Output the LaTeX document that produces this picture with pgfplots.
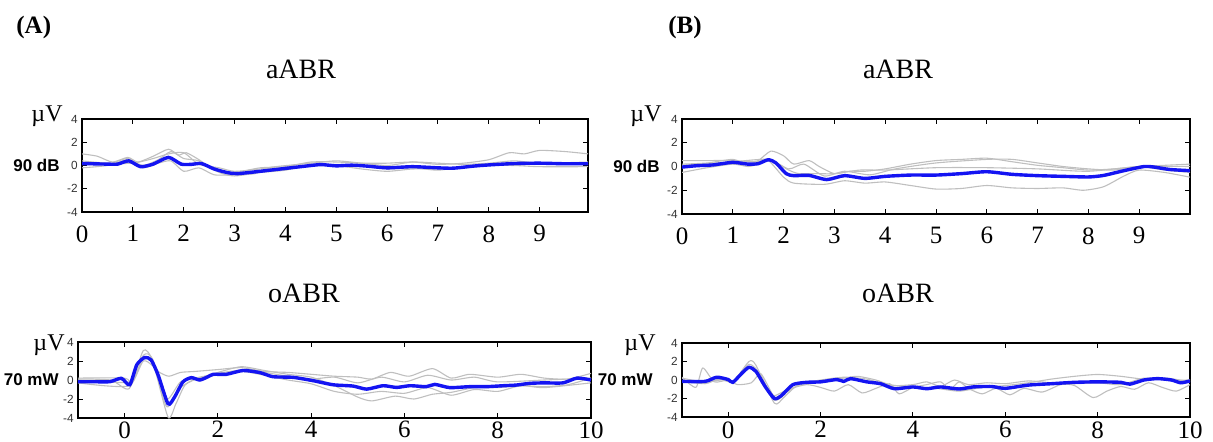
\documentclass[border=0pt]{standalone}
\usepackage{fontspec}
\setmainfont{Liberation Serif}
\setsansfont{Liberation Sans}
\usepackage{pgfplots}
\pgfplotsset{compat=1.18}
\definecolor{meanblue}{rgb}{0.08,0.08,0.95}

\pgfplotsset{
  abr/.style={
    scale only axis, anchor=south west, no markers,
    axis line style={line width=1.2pt},
    ymin=-4, ymax=4, ytick={-4,-2,0,2,4},
    tick align=inside, major tick length=2.5pt,
    every tick/.append style={black, line width=0.5pt},
    /pgf/number format/assume math mode=true,
    xticklabel style={font=\fontsize{12.5}{13}\selectfont, inner sep=0pt},
    yticklabel style={font=\sffamily\fontsize{5.9}{6}\selectfont, text=black!80, inner sep=0pt, xshift=-2pt},
  },
  gr/.style={gray!50, line width=0.55pt, smooth, tension=0.4},
  mn/.style={meanblue, line width=1.7pt, smooth, tension=0.4},
}

\begin{document}
\begin{tikzpicture}
\path[use as bounding box] (0,0) rectangle (606.5pt,220.5pt);

% (A) aABR
\begin{axis}[abr, at={(41pt,114.5pt)}, width=253pt, height=46.5pt,
  xmin=0, xmax=9.95, xtick={0,...,9}, xticklabel style={yshift=-6.5pt}]
\addplot[gr] coordinates {(0,1.0)(0.3,0.8)(0.6,0.3)(0.9,0.7)(1.1,0.3)(1.4,0.8)(1.7,1.4)(1.9,0.9)(2.05,1.1)(2.3,0.5)(2.6,-0.4)(3,-0.6)(3.5,-0.2)(4,-0.1)(4.5,0.3)(5,0.3)(5.5,0.2)(6,0.2)(6.5,0.3)(7,0.1)(7.5,0.2)(8,0.5)(8.4,1.1)(8.7,1.0)(9,1.3)(9.5,1.2)(9.95,1.0)};
\addplot[gr] coordinates {(0,-0.2)(0.5,0)(0.9,0.5)(1.2,0)(1.5,0.5)(1.75,1.2)(2,0.6)(2.3,0.4)(2.7,-0.6)(3,-0.9)(3.5,-0.6)(4,-0.4)(4.5,0.1)(5,0)(5.5,-0.3)(6,-0.5)(6.5,-0.3)(7,-0.3)(7.5,-0.2)(8,0)(8.5,0)(9,-0.1)(9.95,-0.1)};
\addplot[gr] coordinates {(0,0.1)(0.5,0.1)(0.9,0.6)(1.2,-0.2)(1.5,0.2)(1.75,0.4)(2,-0.5)(2.3,-0.2)(2.6,-0.8)(3,-0.8)(3.4,-0.7)(3.6,-0.3)(4,-0.2)(4.5,0)(5,0.1)(5.5,0)(6,-0.3)(6.5,-0.2)(7,-0.4)(7.5,-0.1)(8,0.1)(8.5,0.2)(9,0.1)(9.95,0.1)};
\addplot[gr] coordinates {(0,0.4)(0.5,0.2)(1,0.2)(1.4,0.6)(1.7,1.0)(2,1.1)(2.3,0.1)(2.7,-0.2)(3,-0.5)(3.5,-0.3)(3.8,-0.1)(4.5,0.2)(5,0.4)(5.5,0.2)(6,0)(6.5,0.3)(7,0.2)(7.5,0.1)(8,0.2)(8.5,0.4)(9,0.2)(9.95,0.3)};
\addplot[mn] coordinates {(0,0.17)(0.5,0.12)(0.7,0.12)(0.92,0.4)(1.15,-0.1)(1.4,0.12)(1.7,0.7)(1.95,0.12)(2.15,0.1)(2.35,0.17)(2.6,-0.3)(2.85,-0.6)(3.05,-0.7)(3.5,-0.5)(4,-0.25)(4.4,-0.05)(4.7,0.08)(5,-0.03)(5.3,0.03)(5.6,-0.05)(6,-0.2)(6.5,-0.1)(7,-0.2)(7.3,-0.23)(7.7,-0.05)(8,0.05)(8.5,0.17)(9,0.2)(9.5,0.15)(9.95,0.15)};
\end{axis}

% (B) aABR
\begin{axis}[abr, at={(341pt,113.5pt)}, width=254pt, height=47.5pt,
  xmin=0, xmax=10, xtick={0,...,9}, xticklabel style={yshift=-6.5pt}]
\addplot[gr] coordinates {(0,0.5)(0.5,0.5)(1,0.5)(1.3,0.4)(1.5,0.5)(1.75,1.3)(2,0.9)(2.2,0.2)(2.5,0.5)(2.7,0)(3,-0.6)(3.3,-0.4)(3.6,-0.4)(4,-0.2)(4.5,0.2)(5,0.5)(5.5,0.6)(6,0.7)(6.5,0.4)(7,0.1)(7.5,-0.1)(8,-0.3)(8.5,-0.2)(9,0)(9.5,0.1)(10,0.2)};
\addplot[gr] coordinates {(0,-0.5)(0.5,-0.1)(1,0.2)(1.3,0)(1.5,0.2)(1.7,0.5)(2,-0.9)(2.2,-1.4)(2.8,-1.5)(3.2,-1.2)(3.6,-1.4)(4,-1.3)(4.5,-1.6)(5,-1.9)(5.5,-1.85)(6,-1.6)(6.5,-1.8)(7,-1.85)(7.5,-1.8)(7.9,-2.0)(8.3,-1.7)(8.7,-0.8)(9,-0.3)(9.5,-0.5)(10,-0.9)};
\addplot[gr] coordinates {(0,0.2)(0.5,0.3)(1,0.6)(1.3,0.2)(1.7,0.6)(2.1,-0.3)(2.3,-0.6)(2.6,-0.6)(3,-0.6)(3.5,-0.3)(4,-0.3)(5,-0.1)(6,-0.1)(7,-0.2)(8,-0.4)(9,0)(10,0)};
\addplot[gr] coordinates {(0,0.1)(1,0.4)(1.7,0.6)(2.1,-0.2)(2.4,0.2)(2.8,-0.8)(3.2,-0.4)(3.7,-0.7)(4.2,-0.2)(5,0.3)(6,0.6)(6.5,0.6)(7,0.3)(7.5,0)(8,-0.2)(8.5,-0.3)(9,0)(9.5,-0.3)(10,-0.5)};
\addplot[mn] coordinates {(0,-0.05)(0.3,0.07)(0.6,0.13)(1,0.35)(1.3,0.2)(1.5,0.24)(1.7,0.57)(1.85,0.3)(2.05,-0.6)(2.2,-0.77)(2.5,-0.75)(2.85,-1.1)(3.2,-0.77)(3.6,-1.0)(4,-0.83)(4.5,-0.72)(5,-0.72)(5.5,-0.6)(6,-0.44)(6.5,-0.66)(7,-0.77)(7.5,-0.83)(8,-0.88)(8.3,-0.75)(8.7,-0.35)(9.1,0)(9.3,-0.05)(9.6,-0.25)(10,-0.35)};
\end{axis}

% (A) oABR
\begin{axis}[abr, at={(39pt,11.5pt)}, width=256.5pt, height=38pt,
  xmin=-1, xmax=10, xtick={0,2,...,10}, xticklabel style={yshift=-1.5pt}]
\addplot[gr] coordinates {(-1,0.1)(-0.3,0)(0.1,-0.9)(0.4,3.1)(0.6,2.0)(0.93,-3.9)(1.1,-2.5)(1.3,-0.5)(1.6,0.2)(2,0.8)(2.5,1.4)(3,1.0)(3.5,0.6)(4,0.3)(4.5,-0.6)(5,-1.8)(5.3,-2.2)(5.8,-1.7)(6.2,-2.0)(6.6,-1.5)(7,-1.3)(7.5,-0.8)(8,-0.8)(8.5,-0.6)(9,-0.7)(9.5,-0.5)(10,0.2)};
\addplot[gr] coordinates {(-1,0)(0.1,-0.2)(0.4,2.0)(0.6,1.5)(0.75,0.8)(0.95,0.4)(1.2,0.8)(1.5,0.9)(2,1.1)(2.5,1.3)(3,0.9)(3.5,0.8)(4,0.6)(4.5,0.4)(5,0.3)(5.3,0.1)(5.7,0.8)(6.1,0.4)(6.6,1.2)(7,0.2)(7.4,0.6)(8,0.3)(8.5,0.6)(9,0.2)(9.5,0.1)(10,0.7)};
\addplot[gr] coordinates {(-1,-0.3)(0.1,-0.6)(0.4,2.6)(0.6,2.2)(0.9,-2.8)(1.2,-0.8)(1.6,0.3)(2,0.5)(2.5,0.9)(3,0.5)(3.5,0)(4,-0.4)(4.5,-1.2)(5,-1.5)(5.5,-1.2)(6,-1.4)(6.5,-0.8)(7,-1.6)(7.5,-1.0)(8,-1.2)(8.5,-0.6)(9,-0.8)(10,-0.3)};
\addplot[gr] coordinates {(-1,0.2)(0,0.2)(0.15,-0.3)(0.4,2.3)(0.6,1.9)(0.9,-2.0)(1.2,-0.2)(1.6,0.2)(2,0.7)(2.6,1.1)(3,0.8)(3.5,0.4)(4,0.1)(4.5,0.3)(5,-0.3)(5.5,0.3)(6,-0.2)(6.5,0.5)(7,0)(7.5,0.3)(8,-0.2)(9,0)(10,0.2)};
\addplot[mn] coordinates {(-1,-0.18)(-0.68,-0.18)(-0.32,-0.18)(-0.07,0.18)(0.11,-0.5)(0.26,1.6)(0.43,2.37)(0.57,2.1)(0.72,0.5)(0.93,-2.5)(1.07,-1.8)(1.25,-0.2)(1.43,0.25)(1.61,0)(1.79,0.35)(1.9,0.6)(2.18,0.6)(2.54,1.0)(2.9,0.78)(3.18,0.35)(3.61,0.28)(4.04,-0.07)(4.47,-0.5)(4.9,-0.64)(5.19,-0.96)(5.54,-0.6)(5.83,-0.78)(6.12,-0.6)(6.47,-0.7)(6.65,-0.46)(6.97,-0.8)(7.4,-0.7)(7.76,-0.7)(8.12,-0.6)(8.4,-0.53)(8.69,-0.35)(9,-0.3)(9.4,-0.3)(9.7,0.2)(10,0)};
\end{axis}

% (B) oABR
\begin{axis}[abr, at={(341pt,12pt)}, width=254pt, height=37pt,
  xmin=-1, xmax=10, xtick={0,2,...,10}, xticklabel style={yshift=-2pt}]
\addplot[gr] coordinates {(-1,0.2)(-0.5,-0.2)(0,0.1)(0.1,-0.3)(0.45,2.0)(0.6,1.6)(1,-2.5)(1.2,-1.9)(1.5,-0.6)(2,-0.1)(2.5,0.2)(2.8,0.4)(3.2,0)(3.5,-0.5)(4,-0.8)(4.5,-0.9)(5,-1.2)(5.5,-0.8)(6,-0.6)(6.5,-0.3)(7,0.1)(7.5,0.4)(8,0.6)(8.5,0.4)(9,0.1)(9.5,0.2)(10,-0.2)};
\addplot[gr] coordinates {(-1,0.3)(-0.7,-0.8)(-0.55,1.3)(-0.3,-0.2)(0,0)(0.2,-0.5)(0.5,-0.3)(0.7,0.7)(0.9,-1.0)(1,-1.7)(1.3,-1.0)(1.7,-0.5)(2,-0.8)(2.3,-1.2)(2.6,-0.5)(2.9,-1.4)(3.2,-0.9)(3.5,-0.4)(3.7,-1.5)(4,-0.8)(4.3,-0.5)(4.6,-0.2)(4.8,-1.0)(5,-0.2)(5.2,-0.9)(5.5,-1.5)(5.8,-0.9)(6.1,-1.6)(6.4,-0.9)(6.8,-1.3)(7.2,-0.5)(7.5,-0.6)(7.9,-1.9)(8.2,-1.2)(8.5,-0.7)(8.8,-1.0)(9.1,-0.3)(9.4,-0.8)(9.7,-1.2)(10,-0.5)};
\addplot[gr] coordinates {(-1,-0.1)(-0.5,-0.4)(-0.2,0.1)(0.1,-0.2)(0.45,1.7)(0.7,0.6)(1,-2.2)(1.3,-1.2)(1.6,-0.4)(2,0)(2.5,0.3)(3,0.1)(3.5,-0.6)(4,-0.5)(4.3,-0.2)(4.6,-0.7)(4.9,0)(5.2,-0.5)(5.6,-0.3)(6,-0.4)(6.5,-0.1)(7,-0.3)(7.5,-0.4)(8,-0.3)(8.5,-0.5)(9,0.2)(9.5,0)(10,0)};
\addplot[mn] coordinates {(-1,-0.15)(-0.5,-0.15)(-0.25,0.3)(0,0.05)(0.1,-0.25)(0.3,0.75)(0.45,1.37)(0.6,0.94)(0.8,-0.7)(1,-2.0)(1.15,-1.7)(1.4,-0.5)(1.7,-0.25)(2,-0.2)(2.35,0.05)(2.5,-0.15)(2.65,0.15)(3,-0.2)(3.3,-0.4)(3.6,-0.94)(4,-0.75)(4.3,-0.94)(4.6,-0.75)(5,-0.97)(5.3,-0.75)(5.7,-0.7)(6,-0.9)(6.5,-0.55)(7,-0.4)(7.5,-0.25)(8,-0.2)(8.5,-0.25)(8.7,-0.45)(9,0)(9.3,0.15)(9.6,0)(9.8,-0.3)(10,-0.1)};
\end{axis}

% panel letters, titles and side labels
\node[anchor=base west, font=\bfseries\fontsize{12.5}{13}\selectfont, inner sep=0pt] at (8pt,204pt) {(A)};
\node[anchor=base west, font=\bfseries\fontsize{12.5}{13}\selectfont, inner sep=0pt] at (334pt,204pt) {(B)};
\node[anchor=base, font=\fontsize{14}{15}\selectfont, inner sep=0pt] at (150.5pt,181.5pt) {aABR};
\node[anchor=base, font=\fontsize{14}{15}\selectfont, inner sep=0pt] at (449pt,181.5pt) {aABR};
\node[anchor=base, font=\fontsize{14}{15}\selectfont, inner sep=0pt] at (152pt,69.5pt) {oABR};
\node[anchor=base, font=\fontsize{14}{15}\selectfont, inner sep=0pt] at (449pt,69.5pt) {oABR};
\node[anchor=base east, font=\fontsize{12}{13}\selectfont, inner sep=0pt] at (31.5pt,160pt) {µV};
\node[anchor=base east, font=\fontsize{12}{13}\selectfont, inner sep=0pt] at (331pt,160pt) {µV};
\node[anchor=base east, font=\fontsize{12}{13}\selectfont, inner sep=0pt] at (32.5pt,45.5pt) {µV};
\node[anchor=base east, font=\fontsize{12}{13}\selectfont, inner sep=0pt] at (328pt,45.5pt) {µV};
\node[anchor=east, font=\sffamily\bfseries\fontsize{8.5}{9}\selectfont, inner sep=0pt] at (30pt,137.75pt) {90 dB};
\node[anchor=east, font=\sffamily\bfseries\fontsize{8.5}{9}\selectfont, inner sep=0pt] at (330pt,137.25pt) {90 dB};
\node[anchor=east, font=\sffamily\bfseries\fontsize{8.5}{9}\selectfont, inner sep=0pt] at (29.5pt,30.5pt) {70 mW};
\node[anchor=east, font=\sffamily\bfseries\fontsize{8.5}{9}\selectfont, inner sep=0pt] at (326.5pt,30.5pt) {70 mW};
\end{tikzpicture}
\end{document}
